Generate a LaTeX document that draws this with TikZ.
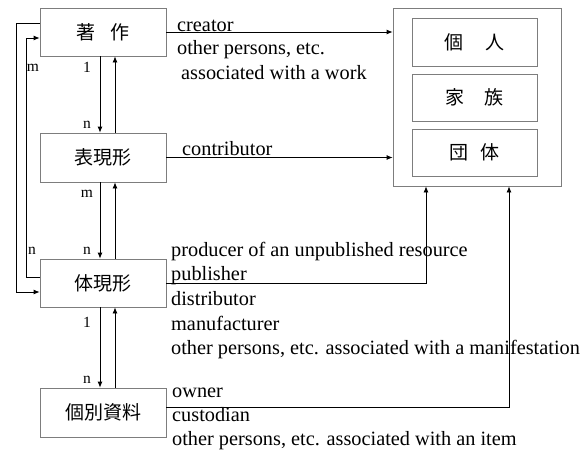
\documentclass[tikz,border=0pt]{standalone}
\usepackage{fontspec}
\setmainfont{Liberation Serif}
\newfontfamily\cjk{Noto Sans CJK JP}
\usetikzlibrary{arrows.meta}
\definecolor{boxgray}{RGB}{125,125,125}
\begin{document}
\begin{tikzpicture}[x=1pt,y=-1pt,
  ent/.style={draw=boxgray,line width=0.8pt,minimum width=126pt,inner sep=0pt,font=\cjk\fontsize{19}{21}\selectfont},
  lbl/.style={anchor=base west,inner sep=0pt,font=\fontsize{20.3}{24}\selectfont},
  card/.style={anchor=base,inner sep=0pt,font=\fontsize{15.5}{18}\selectfont},
  conn/.style={line width=0.8pt,-{Latex[length=6pt,width=5pt]}}]
\useasboundingbox (0,0) rectangle (585,450);
% left column entities
\node[ent,minimum height=48pt] (work) at (103,32) {著\hspace{0.75em}作};
\node[ent,minimum height=49pt] (expr) at (103,157.5) {表現形};
\node[ent,minimum height=48pt] (mani) at (103,283) {体現形};
\node[ent,minimum height=49pt] (item) at (103,412.5) {個別資料};
% agents
\node[draw=boxgray,line width=0.8pt,minimum width=168pt,minimum height=178pt,inner sep=0pt] (agents) at (477,97) {};
\node[ent,minimum width=125pt,minimum height=48pt] (person) at (474.5,42) {個\hspace{1.15em}人\hspace{0.6em}};
\node[ent,minimum width=125pt,minimum height=47pt] (family) at (474.5,97.5) {家\hspace{1.1em}族\hspace{0.5em}};
\node[ent,minimum width=125pt,minimum height=47pt] (corp) at (474.5,152.5) {団\hspace{0.6em}体};
% coordinates for the bottom arrows into agents
\coordinate (am) at ([xshift=-51pt]agents.south);
\coordinate (ai) at ([xshift=32pt]agents.south);
% connectors to agents
\draw[conn] (work.east) -- (work.east -| agents.west);
\draw[conn] (expr.east) -- (expr.east -| agents.west);
\draw[conn] (mani.east) -| (am);
\draw[conn] ([yshift=5.5pt]item.east) -| (ai);
% vertical relationships
\draw[conn] ([xshift=-3pt]work.south) -- ([xshift=-3pt]expr.north);
\draw[conn] ([xshift=12pt]expr.north) -- ([xshift=12pt]work.south);
\draw[conn] ([xshift=-3pt]expr.south) -- ([xshift=-3pt]mani.north);
\draw[conn] ([xshift=12pt]mani.north) -- ([xshift=12pt]expr.south);
\draw[conn] ([xshift=-3pt]mani.south) -- ([xshift=-3pt]item.north);
\draw[conn] ([xshift=12pt]item.north) -- ([xshift=12pt]mani.south);
% left loops
\draw[conn] ([yshift=9pt]work.west) -- ++(-23,0) |- ([yshift=-9pt]mani.west);
\draw[conn] ([yshift=6pt]mani.west) -- ++(-13,0) |- ([yshift=-6pt]work.west);
% cardinalities
\node[card] (c1) at (33,71) {m};
\node[card] (c2) at (87,72) {1};
\node[card] (c3) at (87,128) {n};
\node[card] (c4) at (87,197) {m};
\node[card] (c5) at (87,254) {n};
\node[card] (c6) at (32,254) {n};
\node[card] (c7) at (87,327) {1};
\node[card] (c8) at (87,383) {n};
% role labels
\node[lbl] (t1) at (177,31) {creator};
\node[lbl] (t2) at (177,54) {other persons, etc.};
\node[lbl] (t3) at (181,79) {associated with a work};
\node[lbl] (t4) at (182,155) {contributor};
\node[lbl] (t5) at (171,256) {producer of an unpublished resource};
\node[lbl] (t6) at (171,280) {publisher};
\node[lbl] (t7) at (171,305) {distributor};
\node[lbl] (t8) at (171,330) {manufacturer};
\node[lbl] (t9) at (171,354) {other persons, etc. associated with a manifestation};
\node[lbl] (t10) at (172,397) {owner};
\node[lbl] (t11) at (172,421) {custodian};
\node[lbl] (t12) at (172,445) {other persons, etc. associated with an item};
\end{tikzpicture}
\end{document}
